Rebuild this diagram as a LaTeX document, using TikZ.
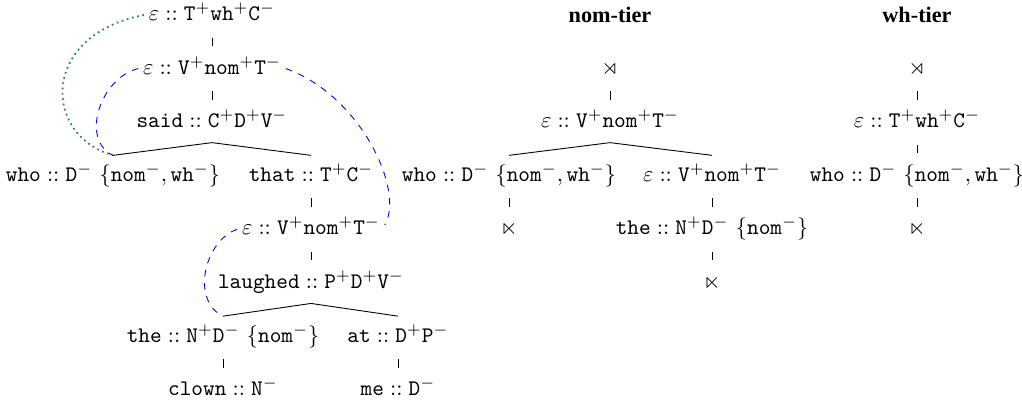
\documentclass[tikz,border=0pt]{standalone}
\usepackage{amssymb}
\usepackage{fontspec}
\newfontfamily\titlefont{Liberation Serif}
\newcommand\ft[1]{\mathtt{#1}}
\definecolor{whgreen}{RGB}{38,140,85}
\begin{document}
\begin{tikzpicture}[x=0.45pt,y=-0.45pt,
  lex/.style={inner xsep=0pt, inner ysep=4pt, text height=7.5pt, text depth=2.5pt, anchor=center},
  bar/.style={shorten <=1pt, shorten >=1pt},
  branch/.style={},
  ttl/.style={font=\titlefont\bfseries, inner sep=0pt},
  mvnom/.style={blue, dash pattern=on 3pt off 3pt, line width=0.4pt},
  mvwh/.style={whgreen, dash pattern=on 0.8pt off 1.6pt, line width=0.8pt}]
\useasboundingbox (0,0) rectangle (1022,402);
\def\rA{15}\def\rB{68.6}\def\rC{122.2}\def\rD{175.8}
\def\rE{229.4}\def\rF{283}\def\rG{336.6}\def\rH{390.2}
% ---- left tree
\node[lex] (n1) at (212,\rA) {$\varepsilon :: \ft{T^+wh^+C^-}$};
\node[lex] (n2) at (212,\rB) {$\varepsilon :: \ft{V^+nom^+T^-}$};
\node[lex] (n3) at (212,\rC) {$\ft{said} :: \ft{C^+D^+V^-}$};
\node[lex] (n4) at (113,\rD) {$\ft{who} :: \ft{D^-}\ \{\ft{nom^-},\ft{wh^-}\}$};
\node[lex] (n5) at (311,\rD) {$\ft{that} :: \ft{T^+C^-}$};
\node[lex] (n6) at (311,\rE) {$\varepsilon :: \ft{V^+nom^+T^-}$};
\node[lex] (n7) at (311,\rF) {$\ft{laughed} :: \ft{P^+D^+V^-}$};
\node[lex] (n8) at (223,\rG) {$\ft{the} :: \ft{N^+D^-}\ \{\ft{nom^-}\}$};
\node[lex] (n9) at (398,\rG) {$\ft{at} :: \ft{D^+P^-}$};
\node[lex] (n10) at (223,\rH) {$\ft{clown} :: \ft{N^-}$};
\node[lex] (n11) at (398,\rH) {$\ft{me} :: \ft{D^-}$};
\draw[bar] (n1.south) -- (n2.north);
\draw[bar] (n2.south) -- (n3.north);
\draw[branch] (n4.north) -- (n3.south) -- (n5.north);
\draw[bar] (n5.south) -- (n6.north);
\draw[bar] (n6.south) -- (n7.north);
\draw[branch] (n8.north) -- (n7.south) -- (n9.north);
\draw[bar] (n8.south) -- (n10.north);
\draw[bar] (n9.south) -- (n11.north);
% movement arcs
\draw[mvwh] ([xshift=-2pt]n1.west) .. controls (40,35) and (42,135) .. (n4.north);
\draw[mvnom] ([xshift=-2pt]n2.west) .. controls (100,78) and (80,140) .. (n4.north);
\draw[mvnom] ([xshift=2pt]n2.east) .. controls (360,95) and (405,190) .. ([xshift=2pt,yshift=2pt]n6.east);
\draw[mvnom] ([xshift=-2pt]n6.west) .. controls (205,240) and (190,300) .. (n8.north);
% ---- nom-tier
\node[ttl] (t1) at (610,\rA) {nom-tier};
\node[lex] (a1) at (610,\rB) {$\rtimes$};
\node[lex] (a2) at (610,\rC) {$\varepsilon :: \ft{V^+nom^+T^-}$};
\node[lex] (a3) at (509,\rD) {$\ft{who} :: \ft{D^-}\ \{\ft{nom^-},\ft{wh^-}\}$};
\node[lex] (a4) at (712,\rD) {$\varepsilon :: \ft{V^+nom^+T^-}$};
\node[lex] (a5) at (509,\rE) {$\ltimes$};
\node[lex] (a6) at (712,\rE) {$\ft{the} :: \ft{N^+D^-}\ \{\ft{nom^-}\}$};
\node[lex] (a7) at (712,\rF) {$\ltimes$};
\draw[bar] (a1.south) -- (a2.north);
\draw[branch] (a3.north) -- (a2.south) -- (a4.north);
\draw[bar] (a3.south) -- (a5.north);
\draw[bar] (a4.south) -- (a6.north);
\draw[bar] (a6.south) -- (a7.north);
% ---- wh-tier
\node[ttl] (t2) at (917,\rA) {wh-tier};
\node[lex] (b1) at (917,\rB) {$\rtimes$};
\node[lex] (b2) at (917,\rC) {$\varepsilon :: \ft{T^+wh^+C^-}$};
\node[lex] (b3) at (917,\rD) {$\ft{who} :: \ft{D^-}\ \{\ft{nom^-},\ft{wh^-}\}$};
\node[lex] (b4) at (917,\rE) {$\ltimes$};
\draw[bar] (b1.south) -- (b2.north);
\draw[bar] (b2.south) -- (b3.north);
\draw[bar] (b3.south) -- (b4.north);
\end{tikzpicture}
\end{document}
